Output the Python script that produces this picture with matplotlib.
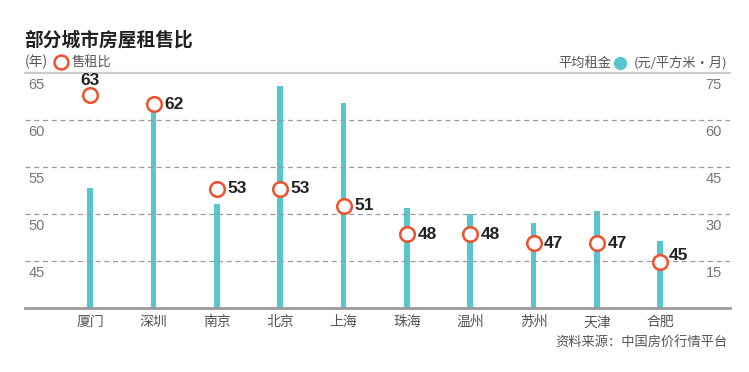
import matplotlib
matplotlib.use("Agg")
import matplotlib.pyplot as plt
from matplotlib.lines import Line2D

plt.rcParams['font.family'] = ['Noto Sans CJK SC', 'DejaVu Sans']

cities = ["厦门", "深圳", "南京", "北京", "上海", "珠海", "温州", "苏州", "天津", "合肥"]
ratio = [62.7, 61.7, 52.7, 52.7, 50.9, 47.9, 47.9, 46.9, 46.9, 44.9]
ratio_labels = ["63", "62", "53", "53", "51", "48", "48", "47", "47", "45"]
rent = [38.4, 66.5, 33.3, 71.0, 65.6, 31.9, 30.1, 27.1, 31.0, 21.5]
left_ticks = [45, 50, 55, 60, 65]
right_ticks = [15, 30, 45, 60, 75]

W, H = 749, 372
fig = plt.figure(figsize=(W / 100, H / 100), dpi=100)
ax = fig.add_axes([25 / W, (H - 308.3) / H, (730 - 25) / W, (308.3 - 73.3) / H])
ax2 = ax.twinx()

BAR = "#56c6d0"
RED = "#f0512d"
GRAY = "#777777"
NUMFONT = "Liberation Sans"

x = list(range(len(cities)))
ax.set_xlim(-1.03, 10.1)
ax.set_ylim(40, 65)
ax2.set_ylim(0, 75)

# gridlines
for t in left_ticks[:-1]:
    ax.axhline(t, color="#9a9a9a", lw=0.9, ls=(0, (4, 3)), zorder=1)
ax.axhline(65, color="#cccccc", lw=1.6, zorder=1, clip_on=False)

# bars on right axis
ax2.bar(x, rent, width=0.09, color=BAR, zorder=2)

# ratio circles
ax.set_zorder(ax2.get_zorder() + 1)
ax.patch.set_visible(False)
ax.plot(x, ratio, ls="none", marker="o", ms=10.5, mfc="white", mec=RED, mew=1.8, zorder=5, clip_on=False)

for i, (v, lab) in enumerate(zip(ratio, ratio_labels)):
    if i == 0:
        off, ha, va = (0, 10.5), "center", "center"
    elif i == len(ratio) - 1:
        off, ha, va = (6, 4.5), "left", "center"
    else:
        off, ha, va = (7.5, 0), "left", "center"
    ax.annotate(lab, (i, v), xytext=off, textcoords="offset points", ha=ha, va=va,
                fontsize=12.5, fontweight="bold", color="#222222", family=NUMFONT, zorder=6)

for a in (ax, ax2):
    for s in a.spines.values():
        s.set_visible(False)
    a.set_yticks([])
ax.spines["bottom"].set_visible(True)
ax.spines["bottom"].set_color("#9a9a9a")
ax.spines["bottom"].set_linewidth(2)
ax.set_xticks(x)
ax.set_xticklabels(cities, fontsize=10, color="#555555")
ax.tick_params(axis="x", length=0, pad=5)

# y tick labels below gridlines
for t in left_ticks:
    ax.annotate(str(t), (0, t), xycoords=ax.get_yaxis_transform(), xytext=(2.5, -3.5),
                textcoords="offset points", ha="left", va="top", fontsize=10.5,
                color=GRAY, family=NUMFONT)
for t in right_ticks:
    ax2.annotate(str(t), (1, t), xycoords=ax2.get_yaxis_transform(), xytext=(-6, -3.5),
                 textcoords="offset points", ha="right", va="top", fontsize=10.5,
                 color=GRAY, family=NUMFONT)

# title and legends
def fx(px):
    return px / W

def fy(py):
    return 1 - py / H

fig.text(fx(24), fy(40), "部分城市房屋租售比", fontsize=13.5, fontweight="bold", color="#222222",
         ha="left", va="center")
fig.text(fx(25), fy(62), "(年)", fontsize=10, color="#555555", ha="left", va="center")
fig.add_artist(Line2D([fx(61)], [fy(62)], marker="o", ms=10, mfc="white", mec=RED, mew=1.8,
                      transform=fig.transFigure))
fig.text(fx(72), fy(62), "售租比", fontsize=9.5, color="#555555", ha="left", va="center")

fig.text(fx(727), fy(63), "(元/平方米·月)", fontsize=9.5, color="#555555", ha="right", va="center")
fig.add_artist(Line2D([fx(620)], [fy(63)], marker="o", ms=9.5, mfc=BAR, mec=BAR, mew=0,
                      transform=fig.transFigure))
fig.text(fx(611), fy(63), "平均租金", fontsize=9.5, color="#555555", ha="right", va="center")

fig.text(fx(728), fy(342), "资料来源：中国房价行情平台", fontsize=9.5, color="#555555", ha="right", va="center")

fig.savefig("out.png", dpi=100)
